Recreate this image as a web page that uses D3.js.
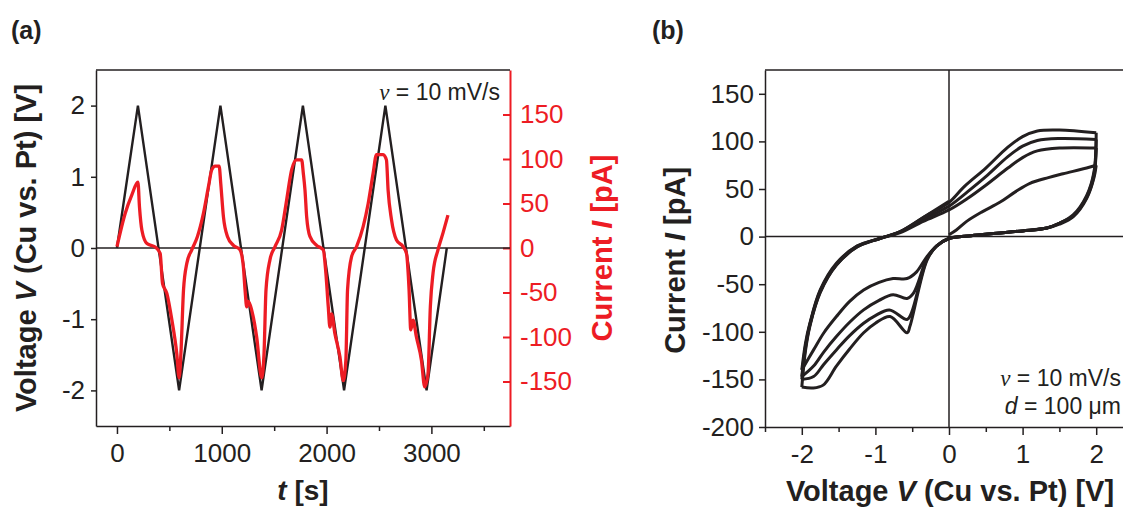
<!DOCTYPE html>
<html>
<head>
<meta charset="utf-8">
<script src="https://cdn.jsdelivr.net/npm/d3@7"></script>
<style>
  body { margin: 0; background: #fff; }
  text { font-family: "Liberation Sans", Arial, sans-serif; fill: #231f20; }
  .tick text { font-size: 26px; }
  .title { font-weight: bold; }
</style>
</head>
<body>
<svg id="chart" width="1123" height="507"></svg>
<script>
// panel (a): triangle voltage sweep
const tVolt = [0, 200, 593, 987, 1380, 1774, 2167, 2561, 2954, 3147]
const vVolt = [0, 2, -2, 2, -2, 2, -2, 2, -2, 0]

// panel (a): measured current [pA] vs time [s]
const tCurr = [0, 79, 143, 200, 215, 238, 286, 365, 412, 435, 476, 524, 571, 593, 610, 635, 667, 714,
  768, 825, 873, 905, 936, 975, 990, 1016, 1054, 1111, 1174, 1206, 1222, 1238, 1254, 1286, 1333, 1381,
  1403, 1422, 1460, 1508, 1571, 1619, 1667, 1714, 1762, 1778, 1794, 1810, 1841, 1905, 1968, 1993, 2016,
  2032, 2048, 2079, 2127, 2159, 2184, 2200, 2238, 2286, 2349, 2397, 2444, 2476, 2540, 2571, 2587, 2619,
  2667, 2730, 2762, 2787, 2803, 2825, 2857, 2905, 2936, 2968, 2990, 3016, 3063, 3111, 3158]
const iCurr = [1.5, 39, 60, 74, 46, 20, 5, 1, -6, -40, -51, -81, -119, -146, -119, -47, -17, -2,
  13, 39, 69, 88, 92, 92, 73, 35, 13, 3, -2, -21, -47, -66, -60, -70, -100, -146,
  -119, -47, -13, 1.5, 20, 54, 88, 99, 99, 84, 65, 35, 13, 3, -2, -28, -66,
  -89, -74, -96, -122, -149, -126, -47, -10, 1.5, 24, 50, 84, 105, 105, 99, 65, 32,
  9, 1.5, -6, -47, -92, -81, -100, -126, -156, -141, -66, -28, -2, 17, 37]

const xTicksA = [0, 1000, 2000, 3000]
const vTicksA = [-2, -1, 0, 1, 2]
const iTicksA = [-150, -100, -50, 0, 50, 100, 150]

// panel (b): cyclic voltammogram sweeps, [V, pA]
const sweep0 = [[0, 2], [0.1, 7], [0.24, 16], [0.45, 26], [0.69, 36], [0.9, 47], [1.1, 56], [1.35, 62], [1.55, 66], [1.87, 72], [2.0, 75]]
const sweep1 = [[2.0, 75], [1.97, 62], [1.87, 40], [1.69, 21], [1.5, 13], [1.33, 9], [1.0, 6], [0.65, 3.5], [0.3, 1], [0, -2], [-0.17, -10], [-0.3, -21], [-0.44, -37], [-0.57, -44], [-0.76, -44], [-0.95, -48], [-1.16, -56], [-1.35, -68], [-1.53, -84], [-1.7, -101], [-1.84, -119], [-2.0, -140]]
const sweep2 = [[-2.0, -140], [-1.95, -112], [-1.89, -91], [-1.75, -56], [-1.53, -28], [-1.25, -10], [-0.94, -2], [-0.67, 4], [-0.35, 16], [0, 28], [0.25, 40], [0.5, 54], [0.8, 72], [1.0, 83], [1.2, 90], [1.5, 93], [2.0, 93]]
const sweep3 = [[2.0, 93], [1.97, 64], [1.87, 41], [1.69, 22], [1.5, 14], [1.33, 9], [1.0, 6], [0.65, 3.5], [0.3, 1], [0, -2], [-0.17, -10], [-0.3, -23], [-0.48, -59], [-0.57, -65], [-0.76, -61], [-0.95, -67], [-1.16, -77], [-1.35, -90], [-1.53, -105], [-1.7, -121], [-1.84, -136], [-2.0, -147]]
const sweep4 = [[-2.0, -147], [-1.95, -115], [-1.89, -92], [-1.75, -57], [-1.53, -29], [-1.25, -10], [-0.94, -2], [-0.67, 5], [-0.35, 18], [0, 32], [0.25, 47], [0.5, 63], [0.8, 84], [1.0, 95], [1.2, 101], [1.5, 103], [2.0, 102]]
const sweep5 = [[2.0, 102], [1.97, 66], [1.87, 42], [1.69, 22], [1.5, 14], [1.33, 9], [1.0, 6], [0.65, 3.5], [0.3, 1], [0, -2], [-0.17, -10], [-0.3, -24], [-0.51, -80], [-0.57, -87], [-0.81, -77], [-1.0, -83], [-1.16, -91], [-1.35, -104], [-1.53, -119], [-1.7, -134], [-1.84, -147], [-2.0, -150]]
const sweep6 = [[-2.0, -150], [-1.95, -117], [-1.89, -93], [-1.75, -58], [-1.53, -30], [-1.25, -11], [-0.94, -2], [-0.67, 5], [-0.35, 20], [0, 36], [0.2, 52], [0.5, 72], [0.8, 94], [1.0, 105], [1.2, 111], [1.5, 112], [2.0, 109]]
const sweep7 = [[2.0, 109], [1.97, 68], [1.87, 43], [1.69, 23], [1.5, 14], [1.33, 9], [1.0, 6], [0.65, 3.5], [0.3, 1], [0, -2], [-0.17, -10], [-0.3, -25], [-0.53, -94], [-0.57, -101], [-0.8, -84], [-1.0, -91], [-1.16, -101], [-1.35, -118], [-1.53, -136], [-1.71, -156], [-1.85, -159], [-2.0, -158]]
const sweep8 = [[-2.0, -158], [-1.95, -120], [-1.89, -94], [-1.75, -59], [-1.53, -30], [-1.25, -11], [-0.94, -2], [-0.67, 5], [-0.35, 20], [0, 37]]

const xTicksB = [-2, -1, 0, 1, 2]
const yTicksB = [-200, -150, -100, -50, 0, 50, 100, 150]

const black = "#231f20"
const red = "#ed1c24"
const plain = d => String(d)

let svg = d3.select("#chart")

// ---------- panel (a) ----------
let a = { left: 96, right: 510, top: 70, bottom: 426 }
let xA = d3.scaleLinear().domain([-200, 3750]).range([a.left, a.right])
let vA = d3.scaleLinear().domain([-2.5, 2.5]).range([a.bottom, a.top])
let iA = d3.scaleLinear().domain([-200, 200]).range([a.bottom, a.top])

svg.append("text").attr("class", "title").attr("x", 11).attr("y", 39)
    .style("font-size", "25px").text("(a)")

// minor x ticks
svg.append("g")
    .attr("transform", "translate(0," + a.bottom + ")")
    .call(d3.axisBottom(xA).tickValues([500, 1500, 2500, 3500]).tickSize(5).tickFormat(""))
    .call(g => g.select(".domain").remove())

let gxA = svg.append("g")
    .attr("transform", "translate(0," + a.bottom + ")")
    .call(d3.axisBottom(xA).tickValues(xTicksA).tickFormat(plain).tickSize(8).tickSizeOuter(0).tickPadding(10))

let gvA = svg.append("g")
    .attr("transform", "translate(" + a.left + ",0)")
    .call(d3.axisLeft(vA).tickValues(vTicksA).tickFormat(plain).tickSize(5).tickSizeOuter(0).tickPadding(6))

let giA = svg.append("g")
    .attr("transform", "translate(" + a.right + ",0)")
    .call(d3.axisRight(iA).tickValues(iTicksA).tickFormat(plain).tickSize(-7).tickSizeOuter(0).tickPadding(10))

svg.selectAll(".domain, .tick line").attr("stroke", black).attr("stroke-width", 1.5)
giA.selectAll(".domain, .tick line").attr("stroke", red).attr("stroke-width", 2)
giA.selectAll("text").style("fill", red)
svg.selectAll(".tick text").attr("fill", null)

// top border
svg.append("line")
    .attr("x1", a.left).attr("x2", a.right).attr("y1", a.top).attr("y2", a.top)
    .attr("stroke", black).attr("stroke-width", 1.5)

// zero line
svg.append("line")
    .attr("x1", a.left).attr("x2", a.right).attr("y1", vA(0)).attr("y2", vA(0))
    .attr("stroke", black).attr("stroke-width", 1.5)

let voltLine = d3.line()
    .x((d, i) => xA(tVolt[i]))
    .y(d => vA(d))

svg.append("path")
    .datum(vVolt)
    .attr("d", voltLine)
    .attr("fill", "none")
    .attr("stroke", black)
    .attr("stroke-width", 2.4)

let currLine = d3.line()
    .x((d, i) => xA(tCurr[i]))
    .y(d => iA(d))
    .curve(d3.curveMonotoneX)

svg.append("path")
    .datum(iCurr)
    .attr("d", currLine)
    .attr("fill", "none")
    .attr("stroke", red)
    .attr("stroke-width", 3.3)
    .attr("stroke-linejoin", "round")

// annotation
let annA = svg.append("text").attr("x", 500).attr("y", 100)
    .attr("text-anchor", "end").style("font-size", "23px")
annA.append("tspan").style("font-family", "'Liberation Serif', serif").style("font-style", "italic").text("ν")
annA.append("tspan").text(" = 10 mV/s")

// axis titles
let tA = svg.append("text").attr("class", "title")
    .attr("x", 303).attr("y", 500)
    .attr("text-anchor", "middle").style("font-size", "28px")
tA.append("tspan").style("font-style", "italic").text("t")
tA.append("tspan").text(" [s]")

let vTitle = svg.append("text").attr("class", "title")
    .attr("transform", "translate(36," + vA(0) + ") rotate(-90)")
    .attr("text-anchor", "middle").style("font-size", "29px")
vTitle.append("tspan").text("Voltage ")
vTitle.append("tspan").style("font-style", "italic").text("V")
vTitle.append("tspan").text(" (Cu vs. Pt) [V]")

let iTitle = svg.append("text").attr("class", "title")
    .attr("transform", "translate(612," + vA(0) + ") rotate(-90)")
    .attr("text-anchor", "middle").style("font-size", "29px")
iTitle.selectAll("tspan").data(["Current ", "I", " [pA]"]).enter().append("tspan")
    .style("fill", red)
    .style("font-style", d => d === "I" ? "italic" : null)
    .text(d => d)

// ---------- panel (b) ----------
let b = { left: 765, right: 1133, top: 70, bottom: 427 }
let xB = d3.scaleLinear().domain([-2.5, 2.5]).range([b.left, b.right])
let yB = d3.scaleLinear().domain([-200, 175]).range([b.bottom, b.top])

svg.append("text").attr("class", "title").attr("x", 652).attr("y", 39)
    .style("font-size", "25px").text("(b)")

let gB = svg.append("g")

gB.append("g")
    .attr("transform", "translate(0," + b.bottom + ")")
    .call(d3.axisBottom(xB).tickValues([-2.5, -1.5, -0.5, 0.5, 1.5]).tickSize(5).tickFormat(""))
    .call(g => g.select(".domain").remove())

gB.append("g")
    .attr("transform", "translate(0," + b.bottom + ")")
    .call(d3.axisBottom(xB).tickValues(xTicksB).tickFormat(plain).tickSize(8).tickSizeOuter(0).tickPadding(10))

gB.append("g")
    .attr("transform", "translate(" + b.left + ",0)")
    .call(d3.axisLeft(yB).tickValues(yTicksB).tickFormat(plain).tickSize(6).tickSizeOuter(0).tickPadding(5))

gB.selectAll(".domain, .tick line").attr("stroke", black).attr("stroke-width", 1.5)
gB.selectAll(".tick text").attr("fill", null)

gB.append("line")
    .attr("x1", b.left).attr("x2", b.right).attr("y1", b.top).attr("y2", b.top)
    .attr("stroke", black).attr("stroke-width", 1.5)
gB.append("line")
    .attr("x1", b.left).attr("x2", b.right).attr("y1", yB(0)).attr("y2", yB(0))
    .attr("stroke", black).attr("stroke-width", 1.5)
gB.append("line")
    .attr("x1", xB(0)).attr("x2", xB(0)).attr("y1", b.top).attr("y2", b.bottom)
    .attr("stroke", black).attr("stroke-width", 1.5)

let cvLine = d3.line()
    .x(d => xB(d[0]))
    .y(d => yB(d[1]))
    .curve(d3.curveCatmullRom.alpha(0.5))

gB.selectAll(".sweep")
    .data([sweep0, sweep1, sweep2, sweep3, sweep4, sweep5, sweep6, sweep7, sweep8])
    .enter().append("path")
    .attr("class", "sweep")
    .attr("d", cvLine)
    .attr("fill", "none")
    .attr("stroke", black)
    .attr("stroke-width", 3)
    .attr("stroke-linejoin", "round")

let annB1 = gB.append("text").attr("x", 1121).attr("y", 386)
    .attr("text-anchor", "end").style("font-size", "23px")
annB1.append("tspan").style("font-family", "'Liberation Serif', serif").style("font-style", "italic").text("ν")
annB1.append("tspan").text(" = 10 mV/s")

let annB2 = gB.append("text").attr("x", 1121).attr("y", 414)
    .attr("text-anchor", "end").style("font-size", "23px")
annB2.append("tspan").style("font-style", "italic").text("d")
annB2.append("tspan").text(" = 100 μm")

let xTitleB = gB.append("text").attr("class", "title")
    .attr("x", 950).attr("y", 501)
    .attr("text-anchor", "middle").style("font-size", "29px")
xTitleB.append("tspan").text("Voltage ")
xTitleB.append("tspan").style("font-style", "italic").text("V")
xTitleB.append("tspan").text(" (Cu vs. Pt) [V]")

let yTitleB = gB.append("text").attr("class", "title")
    .attr("transform", "translate(685," + yB(-25) + ") rotate(-90)")
    .attr("text-anchor", "middle").style("font-size", "29px")
yTitleB.append("tspan").text("Current ")
yTitleB.append("tspan").style("font-style", "italic").text("I")
yTitleB.append("tspan").text(" [pA]")
</script>
</body>
</html>
